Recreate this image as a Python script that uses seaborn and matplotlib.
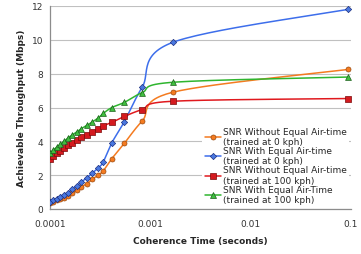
import numpy as np
import pandas as pd
import matplotlib
matplotlib.use("Agg")
import matplotlib.pyplot as plt
from matplotlib.lines import Line2D
import seaborn as sns

# ---- data ----
coherence_time = [1.0e-4, 1.08e-4, 1.17e-4, 1.26e-4, 1.38e-4, 1.51e-4, 1.66e-4,
                  1.85e-4, 2.05e-4, 2.33e-4, 2.63e-4, 3.02e-4, 3.39e-4, 4.14e-4,
                  5.5e-4, 8.3e-4, 1.67e-3, 0.094]
snr_no_ea_0kph = [0.37, 0.44, 0.51, 0.58, 0.67, 0.78, 0.93, 1.10, 1.30, 1.50,
                  1.75, 2.00, 2.25, 2.98, 3.88, 5.20, 6.90, 8.25]
snr_ea_0kph = [0.40, 0.52, 0.61, 0.70, 0.81, 0.96, 1.16, 1.36, 1.59, 1.84,
               2.12, 2.42, 2.78, 3.92, 5.16, 7.20, 9.85, 11.80]
snr_no_ea_100kph = [2.98, 3.14, 3.30, 3.45, 3.60, 3.76, 3.92, 4.08, 4.24, 4.40,
                    4.55, 4.75, 4.92, 5.12, 5.47, 5.88, 6.37, 6.53]
snr_ea_100kph = [3.33, 3.49, 3.65, 3.82, 4.00, 4.20, 4.37, 4.55, 4.75, 4.94,
                 5.14, 5.37, 5.65, 6.00, 6.30, 6.88, 7.49, 7.80]
series_labels = ["SNR Without Equal Air-time\n(trained at 0 kph)",
                 "SNR With Equal Air-time\n(trained at 0 kph)",
                 "SNR Without Equal Air-time\n(trained at 100 kph)",
                 "SNR With Equal Air-Time\n(trained at 100 kph)"]
x_ticks = [1e-4, 1e-3, 1e-2, 1e-1]
x_tick_labels = ["0.0001", "0.001", "0.01", "0.1"]
y_ticks = [0, 2, 4, 6, 8, 10, 12]

series_values = [snr_no_ea_0kph, snr_ea_0kph, snr_no_ea_100kph, snr_ea_100kph]
line_colors = ["#F47B20", "#3D6EEB", "#E0191E", "#2FB52F"]
face_colors = ["#F47B20", "#4A78E0", "#D41A1F", "#3FBF3F"]
edge_colors = ["#9A4A10", "#1C2F80", "#7A0A0A", "#1B5E1B"]
markers = ["o", "D", "s", "^"]
msizes = [3.6, 3.2, 3.8, 4.2]


def smooth(xs, ys, n=30):
    """Excel-like smoothed line (Bezier, tension 1/6) computed in log-x space."""
    lx = np.log10(np.asarray(xs, float))
    y = np.asarray(ys, float)
    P = np.column_stack([lx, y])
    out = []
    m = len(P)
    for i in range(m - 1):
        p0 = P[i - 1] if i > 0 else P[i]
        p1 = P[i]
        p2 = P[i + 1]
        p3 = P[i + 2] if i + 2 < m else P[i + 1]
        c1 = p1 + (p2 - p0) / 6.0
        c2 = p2 - (p3 - p1) / 6.0
        t = np.linspace(0, 1, n, endpoint=(i == m - 2))[:, None]
        seg = ((1 - t) ** 3) * p1 + 3 * ((1 - t) ** 2) * t * c1 + 3 * (1 - t) * t ** 2 * c2 + t ** 3 * p2
        out.append(seg)
    out = np.vstack(out)
    return 10 ** out[:, 0], out[:, 1]


sns.set_theme(style="white")
plt.rcParams["font.family"] = ["DejaVu Sans"]

fig = plt.figure(figsize=(3.61, 2.55), dpi=100)
ax = fig.add_axes([50 / 361, 45 / 255, 301 / 361, 203 / 255])

handles = []
for vals, lab, lc, fc, ec, mk, ms in zip(series_values, series_labels, line_colors,
                                          face_colors, edge_colors, markers, msizes):
    sx, sy = smooth(coherence_time, vals)
    df = pd.DataFrame({"t": sx, "v": sy})
    sns.lineplot(data=df, x="t", y="v", ax=ax, color=lc, lw=1.1, sort=False,
                 estimator=None, legend=False, zorder=3)
    pts = pd.DataFrame({"t": coherence_time, "v": vals})
    sns.scatterplot(data=pts, x="t", y="v", ax=ax, marker=mk, s=ms ** 2,
                    color=fc, edgecolor=ec, linewidth=0.5, legend=False, zorder=4)
    handles.append(Line2D([], [], color=lc, lw=1.1, marker=mk, markersize=ms,
                          markerfacecolor=fc, markeredgecolor=ec, markeredgewidth=0.5,
                          label=lab))

ax.set_xscale("log")
ax.set_xlim(1e-4, 0.1)
ax.set_ylim(0, 12)
ax.set_xticks(x_ticks)
ax.set_xticklabels(x_tick_labels)
ax.xaxis.set_minor_locator(matplotlib.ticker.NullLocator())
ax.set_yticks(y_ticks)
ax.tick_params(axis="x", length=0, labelsize=6.5, colors="#333333", pad=7)
ax.tick_params(axis="y", length=0, labelsize=6.5, colors="#333333", pad=5)
ax.yaxis.grid(True, color="#C0C0C0", lw=0.8)
ax.xaxis.grid(False)
for s in ["top", "right"]:
    ax.spines[s].set_visible(False)
for s in ["left", "bottom"]:
    ax.spines[s].set_color("#8C8C8C")
    ax.spines[s].set_linewidth(0.9)

ax.set_xlabel("Coherence Time (seconds)", fontsize=6.5, fontweight="bold", labelpad=6)
ax.set_ylabel("Achievable Throughput (Mbps)", fontsize=6.5, fontweight="bold", labelpad=4)

leg = ax.legend(handles=handles, loc="lower right", bbox_to_anchor=(0.995, 0.01),
                fontsize=6.5, frameon=True, facecolor="white", edgecolor="none",
                framealpha=1, handlelength=1.8, handletextpad=0.2,
                labelspacing=0.0, borderpad=0.3, borderaxespad=0.0)
leg.set_zorder(5)

fig.savefig("out.png", dpi=100)
